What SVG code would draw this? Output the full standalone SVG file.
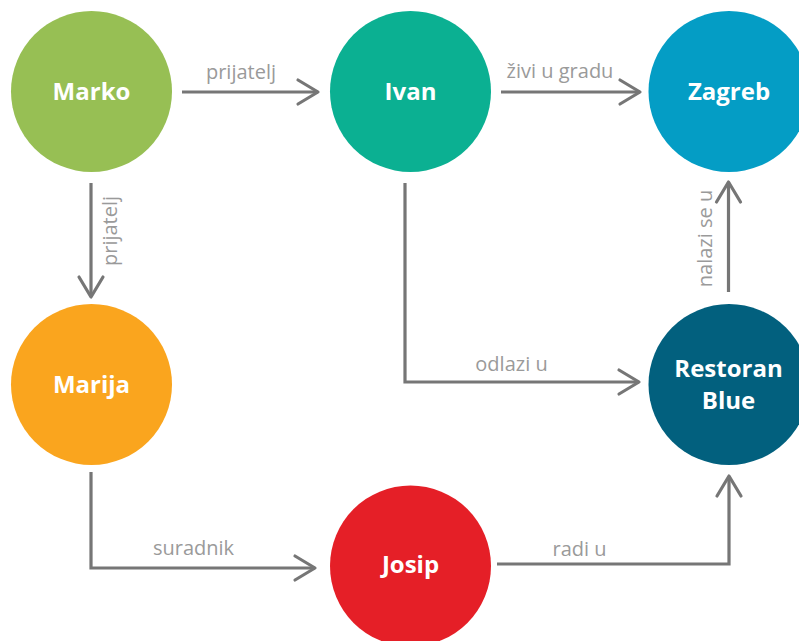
<svg xmlns="http://www.w3.org/2000/svg" width="799" height="641" viewBox="0 0 799 641">
<style>
.node-label{font-family:"Open Sans","Liberation Sans",sans-serif;font-weight:bold;font-size:24px;fill:#ffffff;text-anchor:middle}
.edge-label{font-family:"Open Sans","Liberation Sans",sans-serif;font-size:20px;fill:#9a9a9a;text-anchor:middle}
.edge{fill:none;stroke:#767676;stroke-width:3.2;marker-end:url(#arrow)}
</style>
<defs>
<marker id="arrow" markerUnits="userSpaceOnUse" markerWidth="26" markerHeight="30" viewBox="-3 -3 26 30" refX="20" refY="12" orient="auto">
<path d="M0,0 L20,12 L0,24" fill="none" stroke="#767676" stroke-width="3.2" stroke-linecap="round" stroke-linejoin="round"/>
</marker>
</defs>
<rect width="799" height="641" fill="#ffffff"/>
<g id="connectors">
<path class="edge" d="M182,92 H318"/>
<path class="edge" d="M501,92 H640"/>
<path class="edge" d="M91,183 V297"/>
<path class="edge" d="M405,183 V382 H639"/>
<path class="edge" d="M728.5,292 V182"/>
<path class="edge" d="M91,472 V568 H315"/>
<path class="edge" d="M497,564 H729 V476"/>
<text class="edge-label" x="241" y="79">prijatelj</text>
<text class="edge-label" x="560" y="78">živi u gradu</text>
<text class="edge-label" transform="translate(117,231) rotate(-90)">prijatelj</text>
<text class="edge-label" x="511.5" y="371">odlazi u</text>
<text class="edge-label" transform="translate(712,238.5) rotate(-90)">nalazi se u</text>
<text class="edge-label" x="193.5" y="555">suradnik</text>
<text class="edge-label" x="579.5" y="556">radi u</text>
</g>
<g id="marko">
<circle cx="91.5" cy="91.5" r="80.5" fill="#97bf54"/>
<text class="node-label" x="91.5" y="99.5">Marko</text>
</g>
<g id="ivan">
<circle cx="410.5" cy="91.5" r="80.5" fill="#0bb092"/>
<text class="node-label" x="410.5" y="99.5">Ivan</text>
</g>
<g id="zagreb">
<circle cx="729" cy="91.5" r="80.5" fill="#049dc5"/>
<text class="node-label" x="729" y="99.5">Zagreb</text>
</g>
<g id="marija">
<circle cx="91.5" cy="384.5" r="80.5" fill="#faa51e"/>
<text class="node-label" x="91.5" y="392.5">Marija</text>
</g>
<g id="restoran-blue">
<circle cx="729" cy="384.5" r="80.5" fill="#02607e"/>
<text class="node-label" x="728.5" y="376.5">Restoran</text>
<text class="node-label" x="728.5" y="408.5">Blue</text>
</g>
<g id="josip">
<circle cx="410.5" cy="566" r="80.5" fill="#e51f27"/>
<text class="node-label" x="410.5" y="573">Josip</text>
</g>
</svg>
